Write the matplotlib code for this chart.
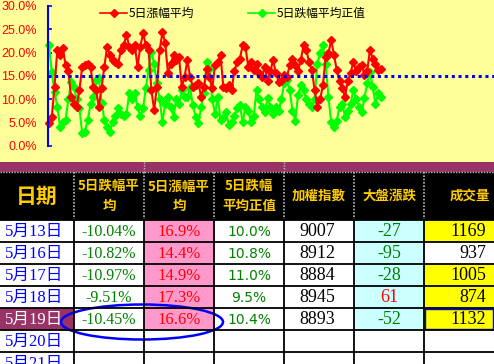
import numpy as np
import matplotlib
matplotlib.use("Agg")
import matplotlib.pyplot as plt
from matplotlib.patches import Rectangle, Ellipse

# 5-day average rise / average fall (absolute), in percent
rise_avg_series = [5.0, 6.2, 12.7, 20.6, 19.5, 21.0, 17.3, 16.0, 10.5, 9.0,
                   8.4, 12.0, 17.0, 17.3, 17.6, 17.0, 12.7, 12.0, 8.4, 12.5,
                   17.0, 21.2, 19.5, 18.4, 18.0, 17.6, 20.6, 21.6, 23.8, 21.3,
                   20.6, 21.6, 17.0, 21.3, 24.2, 21.6, 20.6, 12.0, 7.7, 12.7,
                   20.6, 24.4, 22.0, 15.6, 17.6, 19.5, 18.4, 19.0, 12.7, 14.8,
                   18.4, 14.8, 12.7, 13.0, 13.4, 10.5, 12.7, 16.6, 14.8, 12.4,
                   17.3, 18.0, 19.5, 12.7, 12.4, 13.0, 12.0, 16.0, 18.0, 18.7,
                   21.6, 21.3, 17.0,
                   18.0, 16.3, 17.6, 15.6, 14.8, 17.0, 14.0, 16.0, 18.4, 15.6,
                   13.8, 14.0, 15.3, 14.8, 17.3, 18.7, 17.3, 16.0, 18.4, 21.6,
                   20.6, 18.0, 16.3, 12.0, 8.4, 10.0, 13.0, 19.0, 19.9, 22.7,
                   19.5, 16.3, 14.0, 12.4, 10.5, 14.0, 15.6, 18.0, 16.0, 17.0,
                   17.3, 15.3, 16.0, 20.6, 18.7, 17.6, 16.3, 16.6]
fall_abs_series = [21.6, 15.9, 11.6, 8.4, 4.1, 5.1, 5.6, 10.0, 13.8, 12.7,
                   10.0, 8.1, 2.7, 3.1, 5.6, 8.9, 10.5, 14.1, 14.5, 9.3,
                   5.6, 4.1, 3.1, 5.1, 6.4, 8.1, 6.9, 6.4, 6.9, 11.3,
                   10.0, 11.3, 8.4, 6.4, 8.1, 12.4, 16.3, 20.2, 17.6, 13.4,
                   10.0, 5.1, 9.0, 10.5, 8.4, 6.3, 10.0, 9.0, 12.0, 10.5,
                   10.5, 12.4, 8.7, 6.3, 4.9, 8.4, 11.3, 18.0, 16.6, 10.0,
                   6.9, 10.5, 5.6, 6.0, 7.3, 4.5, 5.1, 6.4, 8.1, 8.7, 5.1,
                   8.4, 7.6, 5.1, 6.4, 12.0, 10.0, 8.4, 7.3, 10.2, 8.4,
                   6.9, 8.4, 7.6, 10.0, 13.4, 14.1, 12.0, 7.6, 5.4, 10.9,
                   13.0, 12.0, 10.0, 9.0, 8.4, 10.0, 17.6, 19.9, 21.6, 17.6,
                   10.5, 5.1, 4.1, 5.4, 8.4, 9.0, 6.3, 7.6, 9.0, 12.0,
                   10.0, 8.4, 7.3, 10.2, 13.4, 15.9, 12.7, 9.0, 11.3, 10.5]
ref_level = 15.0
series_names = ["5日漲幅平均", "5日跌幅平均正值"]

# table
headers = ["日期", "5日跌幅平\n均", "5日漲幅平\n均", "5日跌幅\n平均正值", "加權指數", "大盤漲跌", "成交量"]
dates = ["5月13日", "5月16日", "5月17日", "5月18日", "5月19日", "5月20日", "5月21日"]
fall_avg = ["-10.04%", "-10.82%", "-10.97%", "-9.51%", "-10.45%"]
rise_avg = ["16.9%", "14.4%", "14.9%", "17.3%", "16.6%"]
fall_abs = ["10.0%", "10.8%", "11.0%", "9.5%", "10.4%"]
index_vals = [9007, 8912, 8884, 8945, 8893]
change = [-27, -95, -28, 61, -52]
volume = [1169, 937, 1005, 874, 1132]

W, H = 494, 364
CJK = "Noto Sans CJK TC"
SERIF = ["Liberation Serif", CJK]
fig = plt.figure(figsize=(W / 100, H / 100), dpi=100)

# background layer in pixel coordinates
bg = fig.add_axes([0, 0, 1, 1])
bg.set_xlim(0, W)
bg.set_ylim(H, 0)
bg.axis("off")

bg.add_patch(Rectangle((0, 0), W, 162, color="#FFFF99", lw=0))
bg.add_patch(Rectangle((0, 162), W, 10, color="#993366", lw=0))
bg.add_patch(Rectangle((0, 172), W, 48, color="black", lw=0))
bg.add_patch(Rectangle((0, 220), W, 144, color="white", lw=0))

col_x = [0, 74, 144, 214, 284, 354, 424, 494]
row_y = [220 + 22 * i for i in range(8)]

# cell fills
for i in range(len(rise_avg)):
    bg.add_patch(Rectangle((144, row_y[i]), 70, 22, color="#FF99CC", lw=0))
    bg.add_patch(Rectangle((354, row_y[i]), 70, 22, color="#CCFFFF", lw=0))
    if i != 1:
        bg.add_patch(Rectangle((424, row_y[i]), 70, 22, color="#FFFF00", lw=0))
bg.add_patch(Rectangle((0, row_y[4]), 74, 22, color="#993366", lw=0))

# grid
bg.plot([0, W], [171.5, 171.5], color="#BBBBBB", lw=1, ls=(0, (1, 1)))
for x in col_x[1:-1]:
    bg.plot([x, x], [172, 219], color="#BBBBBB", lw=1.2, ls=(0, (1, 1)))
    bg.plot([x, x], [220, H], color="black", lw=1.3)
for x in [144, 284]:
    bg.plot([x, x], [162, 171], color="#BBBBBB", lw=1, ls=(0, (1, 1)))
for y in row_y:
    bg.plot([0, W], [y, y], color="black", lw=1.3)

# header text
hc = "#FFCC00"
bg.text(37, 196, headers[0], color=hc, fontsize=15, family=CJK,
        fontweight="bold", ha="center", va="center")
for j in range(1, 7):
    cx = (col_x[j] + col_x[j + 1]) / 2
    ha = "center"
    if j == 6:
        cx, ha = 490, "right"
    bg.text(cx, 196, headers[j], color=hc, fontsize=9.7, family=CJK,
            fontweight="bold", ha=ha, va="center", linespacing=1.5)

# body text
for i, d in enumerate(dates):
    cy = row_y[i] + 11.5
    bg.text(5, cy, d, color="white" if i == 4 else "#0000FF", fontsize=12,
            family=SERIF, ha="left", va="center")
for i in range(len(fall_avg)):
    cy = row_y[i] + 11.5
    bg.text(109, cy, fall_avg[i], color="#008000", fontsize=11.5, family=SERIF,
            ha="center", va="center")
    bg.text(179, cy, rise_avg[i], color="#FF0000", fontsize=12, family=SERIF,
            ha="center", va="center")
    bg.text(249, cy, fall_abs[i], color="#008000", fontsize=10, family="DejaVu Sans",
            ha="center", va="center")
    bg.text(317, cy, str(index_vals[i]), color="black", fontsize=13, family=SERIF,
            ha="center", va="center")
    bg.text(389, cy, str(change[i]), color="#FF0000" if change[i] > 0 else "#008000",
            fontsize=13, family=SERIF, ha="center", va="center")
    bg.text(486, cy, str(volume[i]), color="black", fontsize=13, family=SERIF,
            ha="right", va="center")

# selected cell and circled row
bg.add_patch(Rectangle((425, row_y[4] + 1), 68, 20, fill=False, ec="#0000FF", lw=1))
bg.add_patch(Ellipse((142, 322), 162, 35, fill=False, ec="#0000FF", lw=1.8))

# legend
for (x0, name, c) in [(100, series_names[0], "#FF0000"), (248, series_names[1], "#00FF00")]:
    bg.plot([x0, x0 + 27], [13, 13], color=c, lw=1.2)
    bg.plot([x0 + 13.5], [13], marker="D", color=c, ms=4)
    bg.text(x0 + 29, 13, name, color="black", fontsize=8.5, family=CJK,
            ha="left", va="center")

# chart
ax = fig.add_axes([48 / W, 1 - 146 / H, (W - 48) / W, 140 / H], zorder=2)
ax.patch.set_alpha(0)
n = len(rise_avg_series)
step = (381 - 49) / (n - 1)
ax.set_xlim(-1 / step, (W - 49) / step)
ax.set_ylim(0, 30)
ax.plot(np.arange(len(fall_abs_series)), fall_abs_series, color="#00FF00", lw=1.5,
        marker="D", ms=4.2, clip_on=False)
ax.plot(np.arange(n), rise_avg_series, color="#FF0000", lw=1.5,
        marker="D", ms=4.2, clip_on=False)
ax.axhline(ref_level, color="#0000FF", lw=2.2, ls=(0, (1, 1.2)))
for s in ["top", "right", "bottom"]:
    ax.spines[s].set_visible(False)
ax.spines["left"].set_color("#0000FF")
ax.spines["left"].set_linewidth(1.5)
ax.set_xticks([])
ax.set_yticks(np.arange(0, 31, 5))
ax.set_yticklabels([f"{v:.1f}%" for v in np.arange(0, 31, 5)])
ax.tick_params(axis="y", direction="in", length=3, width=1.2, color="#0000FF",
               labelcolor="#FF0000", labelsize=9, pad=8)
for t in ax.get_yticklabels():
    t.set_family("Liberation Sans")

fig.savefig("out.png", dpi=100)
